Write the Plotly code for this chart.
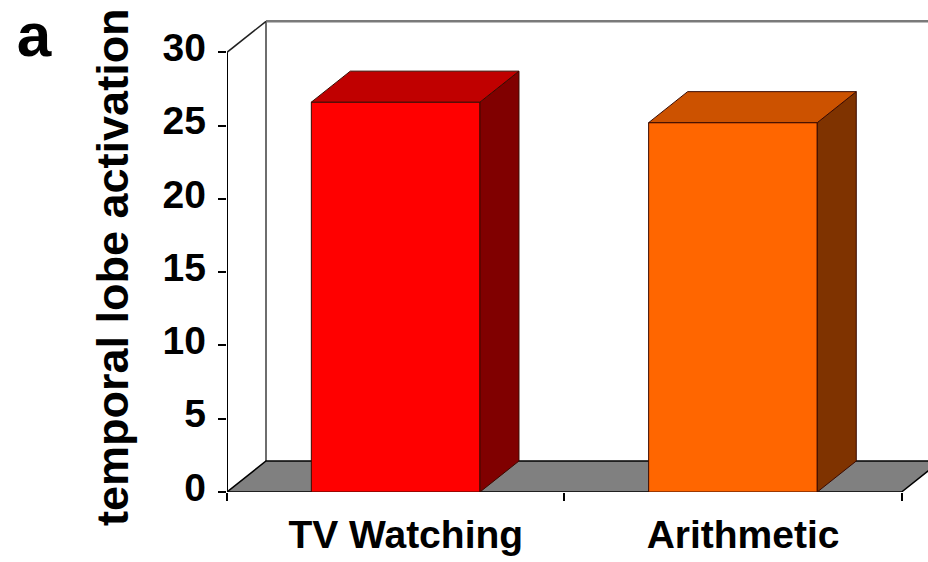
import plotly.graph_objects as go

# Data
categories = ["TV Watching", "Arithmetic"]
activation = [26.6, 25.2]
y_ticks = [0, 5, 10, 15, 20, 25, 30]

# Styling for the pseudo-3D bars (front, top, side faces)
front_colors = ["#FF0000", "#FF6600"]
top_colors = ["#C00000", "#CC5200"]
side_colors = ["#800000", "#7F3300"]
edge_color = "#3A0A00"

FONT = "Arial, Liberation Sans, sans-serif"
W, H = 928, 562
M_L, M_R, M_T, M_B = 227, 0, 10, 70
PLOT_W = W - M_L - M_R
PLOT_H = H - M_T - M_B

# Axis scaling: one category slot is 1 unit, y ticks every 5
x_lo = -0.5
x_hi = -0.5 + PLOT_W / 337.3
y_px_per_unit = (491.7 - 52.0) / 30.0
y_hi = PLOT_H / y_px_per_unit

# Depth offset of the 3D box (data units)
DX = 39 / 337.3
DY = 31 / y_px_per_unit
BAR_W = 0.5
Y_TOP = max(y_ticks)

n = len(categories)
xs = list(range(n))
x_left = x_lo
x_right = n - 0.5

fig = go.Figure()


def path_of(px, py):
    pts = " L ".join(f"{a},{b}" for a, b in zip(px, py))
    return f"M {pts} Z"


def back_shape(px, py, fill, line_color, line_width):
    # Walls and floor sit underneath the bars
    fig.add_shape(type="path", path=path_of(px, py), xref="x", yref="y",
                  fillcolor=fill, line=dict(color=line_color, width=line_width),
                  layer="below")


def back_line(px, py, color, width):
    fig.add_shape(type="line", x0=px[0], y0=py[0], x1=px[1], y1=py[1],
                  xref="x", yref="y", line=dict(color=color, width=width),
                  layer="below")


def poly(px, py, fill, line_color, line_width=1.0):
    fig.add_trace(go.Scatter(
        x=px + [px[0]], y=py + [py[0]], mode="lines", fill="toself",
        fillcolor=fill, line=dict(color=line_color, width=line_width),
        hoverinfo="skip", showlegend=False,
    ))


# Left side wall and back wall outline
back_line([x_left + DX, x_left + DX], [DY, Y_TOP + DY], "#6E6E6E", 2)
back_line([x_left + DX, x_right + DX + 0.5], [Y_TOP + DY, Y_TOP + DY], "#7A7A7A", 2.5)
back_line([x_left, x_left + DX], [Y_TOP, Y_TOP + DY], "#202020", 1.5)

# Floor
back_shape([x_left, x_right, x_right + DX, x_left + DX],
           [0, 0, DY, DY], "#808080", "#000000", 1.5)

# Y axis line
back_line([x_left, x_left], [0, Y_TOP], "#000000", 2)

# Bars: front face as a bar trace, side and top faces from the same values
fig.add_trace(go.Bar(
    x=xs, y=activation, width=BAR_W,
    marker=dict(color=front_colors, line=dict(color=edge_color, width=1)),
    hoverinfo="skip", showlegend=False,
))

for i, v in enumerate(activation):
    xl = xs[i] - BAR_W / 2
    xr = xs[i] + BAR_W / 2
    poly([xr, xr + DX, xr + DX, xr], [0, DY, v + DY, v],
         side_colors[i], edge_color, 1)
    poly([xl, xr, xr + DX, xl + DX], [v, v, v + DY, v + DY],
         top_colors[i], edge_color, 1)

# Label offsets: category labels sit a little right of the front faces,
# value labels sit slightly above their tick marks
label_shift = 0.03
ylabel_shift = 5 / y_px_per_unit

# Y-axis title placed as rotated text left of the tick labels
title_cx = (112 - M_L) / PLOT_W
title_cy = (M_T + PLOT_H - 267) / PLOT_H
fig.add_annotation(
    text="<b>temporal lobe activation</b>", textangle=-90,
    xref="paper", yref="paper", x=title_cx, y=title_cy,
    xanchor="center", yanchor="middle", showarrow=False,
    font=dict(size=45, family=FONT, color="#000000"),
)

fig.update_layout(
    width=W, height=H,
    margin=dict(l=M_L, r=M_R, t=M_T, b=M_B, pad=0),
    paper_bgcolor="white", plot_bgcolor="rgba(0,0,0,0)",
    font=dict(family=FONT, color="#000000"),
    title=dict(text="<b>a</b>", x=0.018, xanchor="left", xref="container",
               y=0.977, yanchor="top", yref="container",
               font=dict(size=62, family=FONT, color="#000000")),
    xaxis=dict(
        range=[x_lo, x_hi], showgrid=False, zeroline=False, showline=False,
        tickmode="array", tickvals=[x + label_shift for x in xs],
        ticktext=[f"<b>{c}</b>" for c in categories], ticks="",
        tickfont=dict(size=39, family=FONT, color="#000000"),
        ticklabelstandoff=16,
        minor=dict(tickmode="array",
                   tickvals=[x_left + k for k in range(n + 1)],
                   ticks="outside", ticklen=8, tickwidth=1.5, tickcolor="#000000",
                   showgrid=False),
        fixedrange=True,
    ),
    yaxis=dict(
        range=[0, y_hi], showgrid=False, zeroline=False, showline=False,
        tickmode="array", tickvals=[t + ylabel_shift for t in y_ticks],
        ticktext=[f"<b>{t}</b>" for t in y_ticks], ticks="",
        tickfont=dict(size=39, family=FONT, color="#000000"),
        ticklabelstandoff=20,
        minor=dict(tickmode="array", tickvals=y_ticks,
                   ticks="outside", ticklen=8, tickwidth=1.5, tickcolor="#000000",
                   showgrid=False),
        fixedrange=True,
    ),
)

fig.write_html("out.html")
